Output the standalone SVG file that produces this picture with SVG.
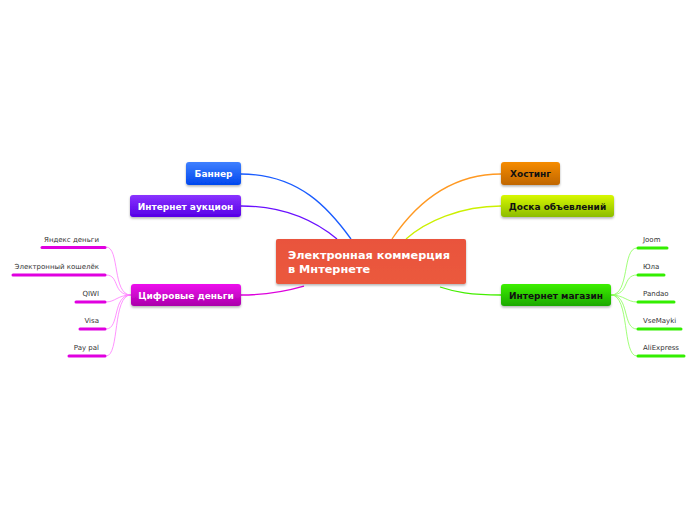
<svg xmlns="http://www.w3.org/2000/svg" width="696" height="520" viewBox="0 0 696 520">
<style>
.n{font-family:"DejaVu Sans","Liberation Sans",sans-serif;font-weight:bold;font-size:9px}
.w{fill:#fff}
.b{fill:#111}
.leaf{font-family:"DejaVu Sans","Liberation Sans",sans-serif;font-size:7px;fill:#333}
.c{fill:none;stroke-width:1.3}
.lm{fill:none;stroke:#ff77ff;stroke-width:0.8}
.lg{fill:none;stroke:#88ff55;stroke-width:0.8}
.bm{stroke:#e000e0;stroke-width:3;stroke-linecap:round}
.bg{stroke:#33ee00;stroke-width:3;stroke-linecap:round}
</style>
<defs>
<filter id="sh" x="-20%" y="-30%" width="140%" height="170%"><feDropShadow dx="0" dy="1.5" stdDeviation="1.2" flood-color="#000" flood-opacity="0.3"/></filter>
<linearGradient id="gBlue" x1="0" y1="0" x2="0" y2="1"><stop offset="0" stop-color="#3f80ff"/><stop offset="1" stop-color="#0048ee"/></linearGradient>
<linearGradient id="gPurp" x1="0" y1="0" x2="0" y2="1"><stop offset="0" stop-color="#8a33ff"/><stop offset="1" stop-color="#5500e6"/></linearGradient>
<linearGradient id="gMag" x1="0" y1="0" x2="0" y2="1"><stop offset="0" stop-color="#ee11ee"/><stop offset="1" stop-color="#aa00aa"/></linearGradient>
<linearGradient id="gOr" x1="0" y1="0" x2="0" y2="1"><stop offset="0" stop-color="#f68c00"/><stop offset="1" stop-color="#c06600"/></linearGradient>
<linearGradient id="gLime" x1="0" y1="0" x2="0" y2="1"><stop offset="0" stop-color="#d8f800"/><stop offset="1" stop-color="#8cbc00"/></linearGradient>
<linearGradient id="gGr" x1="0" y1="0" x2="0" y2="1"><stop offset="0" stop-color="#3cf000"/><stop offset="1" stop-color="#1ca800"/></linearGradient>
<linearGradient id="gRed" x1="0" y1="0" x2="0" y2="1"><stop offset="0" stop-color="#e9533c"/><stop offset="1" stop-color="#eb5a3e"/></linearGradient>
</defs>
<g id="connectors">
<path class="c" stroke="#1a5cff" d="M241,174 C300,174 330,210 351,239"/>
<path class="c" stroke="#6a10ff" d="M241,206 C290,206 320,225 337,239"/>
<path class="c" stroke="#dd00dd" d="M241,295 C270,295 290,290 304,286"/>
<path class="c" stroke="#ff9922" d="M501,174 C450,174 415,205 392,239"/>
<path class="c" stroke="#ccf000" d="M501,206 C460,206 425,222 406,239"/>
<path class="c" stroke="#44ee00" d="M501,295 C470,295 455,292 440,287"/>
<path class="lm" d="M131,295 C112,295 120,247 106,247"/>
<path class="lm" d="M131,295 C112,295 120,275 106,275"/>
<path class="lm" d="M131,295 C118,295 115,302 106,302"/>
<path class="lm" d="M131,295 C112,295 120,329 106,329"/>
<path class="lm" d="M131,295 C112,295 120,356 106,356"/>
<path class="lg" d="M611,295 C630,295 622,248 637,248"/>
<path class="lg" d="M611,295 C630,295 622,275 637,275"/>
<path class="lg" d="M611,295 C624,295 627,302 637,302"/>
<path class="lg" d="M611,295 C630,295 622,329 637,329"/>
<path class="lg" d="M611,295 C630,295 622,356 637,356"/>
</g>
<g id="center">
<rect x="276" y="239" width="190" height="45" rx="2" fill="url(#gRed)" filter="url(#sh)"/>
<text class="n w" x="288" y="259" style="font-size:11.3px">Электронная коммерция</text>
<text class="n w" x="288" y="273" style="font-size:11.3px">в Мнтернете</text>
</g>
<g id="banner">
<rect x="186" y="162" width="55" height="23" rx="3" fill="url(#gBlue)" filter="url(#sh)"/>
<text class="n w" x="213.5" y="177" text-anchor="middle">Баннер</text>
</g>
<g id="auction">
<rect x="130" y="195" width="111" height="22" rx="3" fill="url(#gPurp)" filter="url(#sh)"/>
<text class="n w" x="185.5" y="209.5" text-anchor="middle">Интернет аукцион</text>
</g>
<g id="digital">
<rect x="131" y="284" width="110" height="22" rx="3" fill="url(#gMag)" filter="url(#sh)"/>
<text class="n w" x="186" y="298.5" text-anchor="middle">Цифровые деньги</text>
</g>
<g id="hosting">
<rect x="501" y="162" width="59" height="23" rx="3" fill="url(#gOr)" filter="url(#sh)"/>
<text class="n b" x="530.5" y="177" text-anchor="middle">Хостинг</text>
</g>
<g id="board">
<rect x="501" y="195" width="113" height="22" rx="3" fill="url(#gLime)" filter="url(#sh)"/>
<text class="n b" x="557.5" y="209.5" text-anchor="middle">Доска объевлений</text>
</g>
<g id="shop">
<rect x="501" y="284" width="110" height="22" rx="3" fill="url(#gGr)" filter="url(#sh)"/>
<text class="n b" x="556" y="298.5" text-anchor="middle">Интернет магазин</text>
</g>
<g id="leaf-yandex"><line class="bm" x1="42" y1="247.5" x2="105" y2="247.5"/><text class="leaf" x="99" y="242" text-anchor="end">Яндекс деньги</text></g>
<g id="leaf-wallet"><line class="bm" x1="13" y1="275" x2="105" y2="275"/><text class="leaf" x="99" y="269" text-anchor="end">Электронный кошелёк</text></g>
<g id="leaf-qiwi"><line class="bm" x1="76" y1="302" x2="105" y2="302"/><text class="leaf" x="99" y="296" text-anchor="end">QIWI</text></g>
<g id="leaf-visa"><line class="bm" x1="80" y1="329" x2="105" y2="329"/><text class="leaf" x="99" y="323" text-anchor="end">Visa</text></g>
<g id="leaf-paypal"><line class="bm" x1="69" y1="356" x2="105" y2="356"/><text class="leaf" x="99" y="350" text-anchor="end">Pay pal</text></g>
<g id="leaf-joom"><line class="bg" x1="638" y1="248" x2="667" y2="248"/><text class="leaf" x="643" y="242">Joom</text></g>
<g id="leaf-yula"><line class="bg" x1="638" y1="275" x2="664" y2="275"/><text class="leaf" x="643" y="269">Юла</text></g>
<g id="leaf-pandao"><line class="bg" x1="638" y1="302" x2="674" y2="302"/><text class="leaf" x="643" y="296">Pandao</text></g>
<g id="leaf-vsemayki"><line class="bg" x1="638" y1="329" x2="681" y2="329"/><text class="leaf" x="643" y="323">VseMayki</text></g>
<g id="leaf-aliexpress"><line class="bg" x1="638" y1="356" x2="684" y2="356"/><text class="leaf" x="643" y="350">AliExpress</text></g>
</svg>
